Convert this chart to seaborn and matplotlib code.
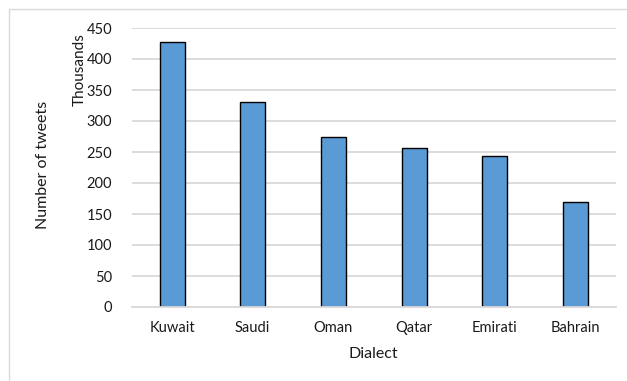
import matplotlib
matplotlib.use("Agg")
import matplotlib.pyplot as plt
import seaborn as sns
import pandas as pd
from matplotlib.patches import Rectangle

dialects = ["Kuwait", "Saudi", "Oman", "Qatar", "Emirati", "Bahrain"]
tweets_thousands = [427, 331, 274, 256, 243, 170]
yticks = [0, 50, 100, 150, 200, 250, 300, 350, 400, 450]

df = pd.DataFrame({"Dialect": dialects, "Tweets": tweets_thousands})

sns.set_theme(style="white")
plt.rcParams["font.family"] = ["Lato", "DejaVu Sans"]

W, H = 627, 381
fig = plt.figure(figsize=(W / 100, H / 100), dpi=100)
ax = fig.add_axes([131.7 / W, 1 - 307 / H, (615.7 - 131.7) / W, (307 - 28) / H])

sns.barplot(data=df, x="Dialect", y="Tweets", ax=ax, color="#5B9BD5",
            width=0.31, edgecolor="black", linewidth=1.0, saturation=1)

ax.set_ylim(0, 450)
ax.set_yticks(yticks)
ax.set_yticklabels([str(t) for t in yticks], fontsize=10.5, color="#1a1a1a")
ax.tick_params(axis="x", labelsize=10.5, labelcolor="#1a1a1a", length=0, pad=10)
ax.tick_params(axis="y", length=0, pad=14)
ax.set_axisbelow(True)
ax.yaxis.grid(True, color="#d9d9d9", linewidth=1.3)
for s in ["left", "right", "top"]:
    ax.spines[s].set_visible(False)
ax.spines["bottom"].set_color("#d9d9d9")
ax.spines["bottom"].set_linewidth(1.3)

ax.set_xlabel("Dialect", fontsize=11.5, color="#1a1a1a", labelpad=9)
ax.set_ylabel("")
fig.text(43 / W, 1 - 165 / H, "Number of tweets", rotation=90, fontsize=11.5,
         color="#1a1a1a", ha="center", va="center")
fig.text(80 / W, 1 - 70 / H, "Thousands", rotation=90, fontsize=11,
         color="#1a1a1a", ha="center", va="center")

# partial chart border (Excel-like frame)
fig.patches.append(Rectangle((8.5 / W, -0.1), 1.2, 1 - 8.5 / H + 0.1,
                             transform=fig.transFigure, fill=False,
                             edgecolor="#d9d9d9", linewidth=1.0))

fig.savefig("out.png", dpi=100)
